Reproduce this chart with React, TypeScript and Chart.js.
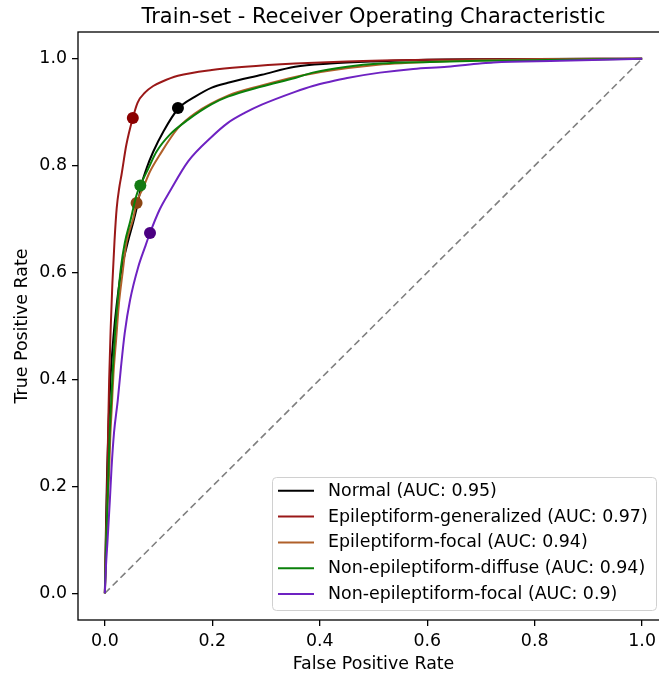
import React, { useEffect, useRef } from "react";
import { Chart, registerables } from "chart.js";

Chart.register(...registerables);

// ---- text ----
const TITLE = "Train-set - Receiver Operating Characteristic";
const X_LABEL = "False Positive Rate";
const Y_LABEL = "True Positive Rate";
const TICKS = [0, 0.2, 0.4, 0.6, 0.8, 1.0];

// ---- classes ----
const CLASSES = [
  "Normal",
  "Epileptiform-generalized",
  "Epileptiform-focal",
  "Non-epileptiform-diffuse",
  "Non-epileptiform-focal",
];
const AUC = ["0.95", "0.97", "0.94", "0.94", "0.9"];
const LINE_COLORS = ["#000000", "#9a1818", "#b0602a", "#0a800a", "#6e22c2"];
const MARKER_COLORS = ["#000000", "#8b0000", "#8b4513", "#137a13", "#4b0082"];

// ---- ROC curves (false positive rate / true positive rate) ----
const FPR_NORMAL = [0, 0.002, 0.004, 0.007, 0.011, 0.016, 0.022, 0.03, 0.043, 0.053, 0.062, 0.068, 0.078, 0.09, 0.109, 0.136, 0.168, 0.199, 0.229, 0.292, 0.354, 0.419, 0.5, 0.6, 0.7, 1.0];
const TPR_NORMAL = [0, 0.12, 0.22, 0.32, 0.41, 0.48, 0.54, 0.6, 0.658, 0.695, 0.733, 0.764, 0.796, 0.826, 0.864, 0.906, 0.929, 0.946, 0.955, 0.97, 0.985, 0.991, 0.995, 0.998, 0.999, 1.0];

const FPR_EPI_GEN = [0, 0.002, 0.004, 0.006, 0.008, 0.011, 0.014, 0.018, 0.022, 0.027, 0.031, 0.04, 0.052, 0.061, 0.075, 0.09, 0.106, 0.136, 0.199, 0.261, 0.354, 0.45, 0.6, 0.75, 1.0];
const TPR_EPI_GEN = [0, 0.1, 0.19, 0.3, 0.4, 0.5, 0.58, 0.66, 0.72, 0.76, 0.783, 0.839, 0.889, 0.918, 0.937, 0.949, 0.957, 0.968, 0.979, 0.985, 0.991, 0.995, 0.998, 0.999, 1.0];

const FPR_EPI_FOCAL = [0, 0.003, 0.005, 0.008, 0.01, 0.013, 0.016, 0.021, 0.026, 0.033, 0.04, 0.053, 0.059, 0.071, 0.084, 0.102, 0.136, 0.168, 0.229, 0.292, 0.354, 0.42, 0.5, 0.6, 0.7, 0.85, 1.0];
const TPR_EPI_FOCAL = [0, 0.105, 0.165, 0.228, 0.29, 0.35, 0.41, 0.475, 0.54, 0.6, 0.655, 0.702, 0.73, 0.758, 0.789, 0.82, 0.87, 0.898, 0.931, 0.95, 0.966, 0.978, 0.988, 0.994, 0.997, 0.999, 1.0];

const FPR_NONEPI_DIFFUSE = [0, 0.003, 0.005, 0.007, 0.009, 0.012, 0.015, 0.019, 0.024, 0.03, 0.037, 0.047, 0.059, 0.066, 0.081, 0.096, 0.121, 0.155, 0.199, 0.229, 0.292, 0.354, 0.387, 0.451, 0.512, 0.605, 0.698, 0.85, 1.0];
const TPR_NONEPI_DIFFUSE = [0, 0.112, 0.174, 0.236, 0.3, 0.361, 0.423, 0.487, 0.549, 0.61, 0.655, 0.695, 0.745, 0.763, 0.795, 0.826, 0.858, 0.886, 0.915, 0.929, 0.948, 0.964, 0.974, 0.985, 0.991, 0.994, 0.996, 0.998, 1.0];

const FPR_NONEPI_FOCAL = [0, 0.002, 0.005, 0.0093, 0.0125, 0.017, 0.024, 0.03, 0.037, 0.047, 0.062, 0.0745, 0.084, 0.102, 0.121, 0.155, 0.199, 0.229, 0.261, 0.292, 0.354, 0.387, 0.419, 0.451, 0.512, 0.574, 0.637, 0.698, 0.723, 0.847, 1.0];
const TPR_NONEPI_FOCAL = [0, 0.05, 0.099, 0.174, 0.236, 0.3, 0.361, 0.423, 0.487, 0.549, 0.61, 0.647, 0.674, 0.718, 0.752, 0.808, 0.854, 0.88, 0.899, 0.914, 0.938, 0.949, 0.957, 0.964, 0.974, 0.981, 0.985, 0.991, 0.993, 0.996, 1.0];

// operating points marked on each curve
const OP_FPR = [0.136, 0.052, 0.059, 0.066, 0.084];
const OP_TPR = [0.908, 0.889, 0.73, 0.763, 0.674];

const CURVES_FPR = [FPR_NORMAL, FPR_EPI_GEN, FPR_EPI_FOCAL, FPR_NONEPI_DIFFUSE, FPR_NONEPI_FOCAL];
const CURVES_TPR = [TPR_NORMAL, TPR_EPI_GEN, TPR_EPI_FOCAL, TPR_NONEPI_DIFFUSE, TPR_NONEPI_FOCAL];

const CHANCE_X = [0, 1];
const CHANCE_Y = [0, 1];

const FONT = "DejaVu Sans";
const CANVAS_W = 700;
const CANVAS_H = 678;

const decorations = {
  id: "rocDecorations",
  afterDatasetsDraw(chart: any) {
    const { ctx, chartArea } = chart;
    const { left, top, right, bottom } = chartArea;
    ctx.save();
    // axes frame
    ctx.strokeStyle = "#000";
    ctx.lineWidth = 1.3;
    ctx.strokeRect(left, top, right - left, bottom - top);

    // title
    ctx.fillStyle = "#000";
    ctx.font = `20.9px '${FONT}'`;
    ctx.textAlign = "center";
    ctx.textBaseline = "alphabetic";
    ctx.fillText(TITLE, (left + right) / 2, 22.5);

    // legend
    const lx = 272.5, ly = 477.5, lw = 384, lh = 133;
    ctx.beginPath();
    ctx.roundRect(lx, ly, lw, lh, 4);
    ctx.fillStyle = "rgba(255,255,255,0.8)";
    ctx.fill();
    ctx.strokeStyle = "#d0d0d0";
    ctx.lineWidth = 1;
    ctx.stroke();
    ctx.font = `17.4px '${FONT}'`;
    ctx.textAlign = "left";
    ctx.textBaseline = "middle";
    CLASSES.forEach((name, i) => {
      const y = 490.8 + i * 25.8;
      ctx.beginPath();
      ctx.strokeStyle = LINE_COLORS[i];
      ctx.lineWidth = 2;
      ctx.moveTo(278, y);
      ctx.lineTo(314, y);
      ctx.stroke();
      ctx.fillStyle = "#000";
      ctx.fillText(`${name} (AUC: ${AUC[i]})`, 328, y + 0.5);
    });
    ctx.restore();
  },
};

function axis(extra: any) {
  return {
    type: "linear",
    min: -0.05,
    max: 1.05,
    afterBuildTicks: (s: any) => {
      s.ticks = TICKS.map((v) => ({ value: v }));
    },
    grid: {
      drawOnChartArea: false,
      drawTicks: true,
      tickLength: 6,
      color: "#000",
      lineWidth: 1.3,
    },
    border: { display: false },
    ticks: {
      color: "#000",
      font: { family: FONT, size: 17.4 },
      padding: 5,
      autoSkip: false,
      maxRotation: 0,
      callback: (v: any) => Number(v).toFixed(1),
    },
    ...extra,
  };
}

export default function App() {
  const ref = useRef<HTMLCanvasElement>(null);

  useEffect(() => {
    if (!ref.current) return;
    const datasets: any[] = [
      {
        data: CHANCE_X.map((x, i) => ({ x, y: CHANCE_Y[i] })),
        showLine: true,
        borderColor: "#7f7f7f",
        borderWidth: 1.6,
        borderDash: [7, 4],
        pointRadius: 0,
        order: 200,
      },
    ];
    CLASSES.forEach((_, i) => {
      datasets.push({
        data: CURVES_FPR[i].map((x, j) => ({ x, y: CURVES_TPR[i][j] })),
        showLine: true,
        borderColor: LINE_COLORS[i],
        borderWidth: 2,
        pointRadius: 0,
        cubicInterpolationMode: "monotone",
        order: 100 - 2 * i,
      });
      datasets.push({
        data: [{ x: OP_FPR[i], y: OP_TPR[i] }],
        showLine: false,
        pointRadius: 6,
        pointBackgroundColor: MARKER_COLORS[i],
        pointBorderWidth: 0,
        order: 99 - 2 * i,
      });
    });

    const chart = new Chart(ref.current, {
      type: "scatter",
      data: { datasets },
      options: {
        responsive: false,
        animation: false,
        devicePixelRatio: 1,
        layout: { padding: { top: 32, right: CANVAS_W - 669, left: 0, bottom: 0 } },
        plugins: {
          legend: { display: false },
          tooltip: { enabled: false },
          title: { display: false },
        },
        scales: {
          x: axis({
            afterFit: (s: any) => {
              s.height = 58;
            },
            title: {
              display: true,
              text: X_LABEL,
              color: "#000",
              font: { family: FONT, size: 17.4 },
              padding: { top: 0, bottom: 3 },
            },
          }),
          y: axis({
            afterFit: (s: any) => {
              s.width = 78;
            },
            title: {
              display: true,
              text: Y_LABEL,
              color: "#000",
              font: { family: FONT, size: 17.4 },
              padding: { top: 12, bottom: 0 },
            },
          }),
        },
      } as any,
      plugins: [decorations],
    });
    return () => chart.destroy();
  }, []);

  return (
    <div
      style={{
        position: "absolute",
        left: 0,
        top: 0,
        width: 659,
        height: 678,
        overflow: "hidden",
        background: "#fff",
      }}
    >
      <canvas ref={ref} width={CANVAS_W} height={CANVAS_H} style={{ display: "block" }} />
    </div>
  );
}
